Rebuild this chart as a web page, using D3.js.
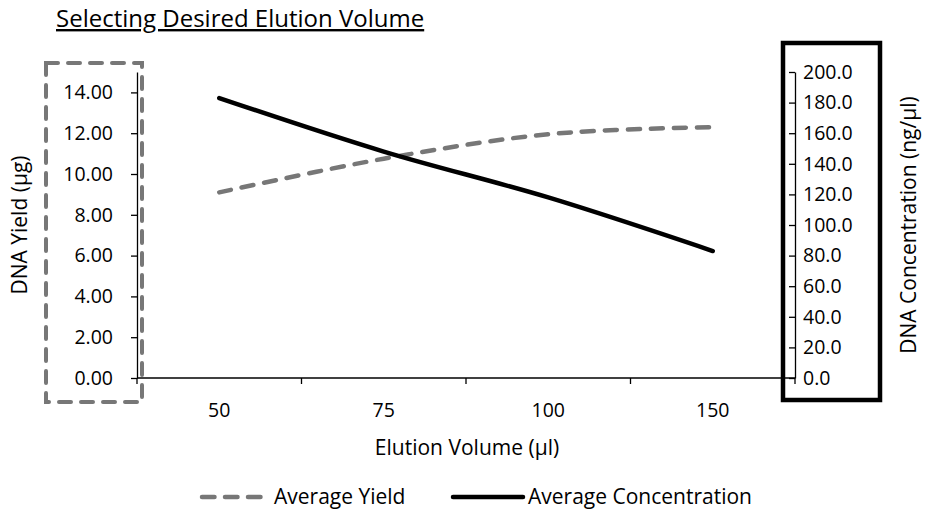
<!DOCTYPE html>
<head>
  <meta charset="utf-8">
  <script src="https://cdn.jsdelivr.net/npm/d3@7"></script>
  <style>
    body { margin:0; background:#fff; }
    text { font-family: "Open Sans", sans-serif; fill:#000; }
    .axis path, .axis line { stroke:#000; stroke-width:1.3; }
  </style>
</head>
<body>
  <script>
    var width = 933,
        height = 514;

    // chart data
    var volumes = ["50", "75", "100", "150"];
    var avgYield = [9.1, 10.75, 11.95, 12.3];
    var avgConc = [183, 148, 118, 83];
    var yieldTicks = [0, 2, 4, 6, 8, 10, 12, 14];
    var concTicks = [0, 20, 40, 60, 80, 100, 120, 140, 160, 180, 200];

    var pLeft = 137, pRight = 795, pTop = 72, pBottom = 378;

    var svg = d3.select("body")
      .append("svg")
      .attr("width", width)
      .attr("height", height);

    var x = d3.scaleBand().domain(volumes).range([pLeft, pRight]);
    var yL = d3.scaleLinear().domain([0, 15]).range([pBottom, pTop]);
    var yR = d3.scaleLinear().domain([0, 200]).range([pBottom, pTop]);

    // title
    svg.append("text")
      .attr("x", 56).attr("y", 27)
      .attr("font-size", 24)
      .attr("text-decoration", "underline")
      .text("Selecting Desired Elution Volume");

    // x axis with ticks between categories
    var gx = svg.append("g").attr("class", "axis")
      .attr("transform", "translate(0," + pBottom + ")");
    gx.append("line").attr("x1", pLeft).attr("x2", pRight);
    var bounds = d3.range(volumes.length + 1).map(function(i) { return pLeft + i * x.bandwidth(); });
    gx.selectAll(".tk").data(bounds).enter().append("line")
      .attr("x1", function(d) { return d; }).attr("x2", function(d) { return d; })
      .attr("y1", 0).attr("y2", 6);
    gx.selectAll(".lb").data(volumes).enter().append("text")
      .attr("x", function(d) { return x(d) + x.bandwidth() / 2; })
      .attr("y", 39)
      .attr("text-anchor", "middle")
      .attr("font-size", 19.5)
      .text(function(d) { return d; });

    // left axis
    var gl = svg.append("g").attr("class", "axis")
      .attr("transform", "translate(" + pLeft + ",0)")
      .call(d3.axisLeft(yL).tickValues(yieldTicks).tickSize(6).tickSizeOuter(0)
        .tickFormat(d3.format(".2f")));
    gl.selectAll("text").attr("font-size", 19.5).attr("x", -24).attr("font-family", null);

    // right axis (ticks pointing into plot)
    var gr = svg.append("g").attr("class", "axis")
      .attr("transform", "translate(" + pRight + ",0)")
      .call(d3.axisRight(yR).tickValues(concTicks).tickSize(-6).tickSizeOuter(0)
        .tickFormat(d3.format(".1f")));
    gr.selectAll("text").attr("font-size", 19.5).attr("x", 8).attr("font-family", null);

    // axis titles
    svg.append("text")
      .attr("transform", "translate(27," + (pTop + pBottom) / 2 + ") rotate(-90)")
      .attr("text-anchor", "middle").attr("font-size", 21)
      .text("DNA Yield (µg)");
    svg.append("text")
      .attr("transform", "translate(916," + (pTop + pBottom) / 2 + ") rotate(-90)")
      .attr("text-anchor", "middle").attr("font-size", 21)
      .text("DNA Concentration (ng/µl)");
    svg.append("text")
      .attr("x", 467).attr("y", 455)
      .attr("text-anchor", "middle").attr("font-size", 21)
      .text("Elution Volume (µl)");

    // lines
    var lineL = d3.line()
      .x(function(d, i) { return x(volumes[i]) + x.bandwidth() / 2; })
      .y(function(d) { return yL(d); })
      .curve(d3.curveCatmullRom);
    var lineR = d3.line()
      .x(function(d, i) { return x(volumes[i]) + x.bandwidth() / 2; })
      .y(function(d) { return yR(d); })
      .curve(d3.curveCatmullRom);

    svg.append("path").datum(avgYield)
      .attr("d", lineL)
      .attr("fill", "none").attr("stroke", "#777")
      .attr("stroke-width", 4.5).attr("stroke-linecap", "round")
      .attr("stroke-dasharray", "12,11");
    svg.append("path").datum(avgConc)
      .attr("d", lineR)
      .attr("fill", "none").attr("stroke", "#000")
      .attr("stroke-width", 4.5).attr("stroke-linecap", "round");

    // highlight boxes
    svg.append("rect")
      .attr("x", 46).attr("y", 63).attr("width", 96).attr("height", 339)
      .attr("fill", "none").attr("stroke", "#777").attr("stroke-width", 4)
      .attr("stroke-linecap", "round").attr("stroke-dasharray", "12,10");
    svg.append("rect")
      .attr("x", 783).attr("y", 43).attr("width", 97).attr("height", 357)
      .attr("fill", "none").attr("stroke", "#000").attr("stroke-width", 4.5);

    // legend
    var lg = svg.append("g");
    lg.append("line").attr("x1", 202).attr("x2", 263).attr("y1", 497).attr("y2", 497)
      .attr("stroke", "#777").attr("stroke-width", 4.5).attr("stroke-linecap", "round")
      .attr("stroke-dasharray", "12.5,10.5");
    lg.append("text").attr("x", 274).attr("y", 504).attr("font-size", 21).text("Average Yield");
    lg.append("line").attr("x1", 453).attr("x2", 523).attr("y1", 497).attr("y2", 497)
      .attr("stroke", "#000").attr("stroke-width", 4.5).attr("stroke-linecap", "round");
    lg.append("text").attr("x", 528).attr("y", 504).attr("font-size", 21).text("Average Concentration");
  </script>
</body>
